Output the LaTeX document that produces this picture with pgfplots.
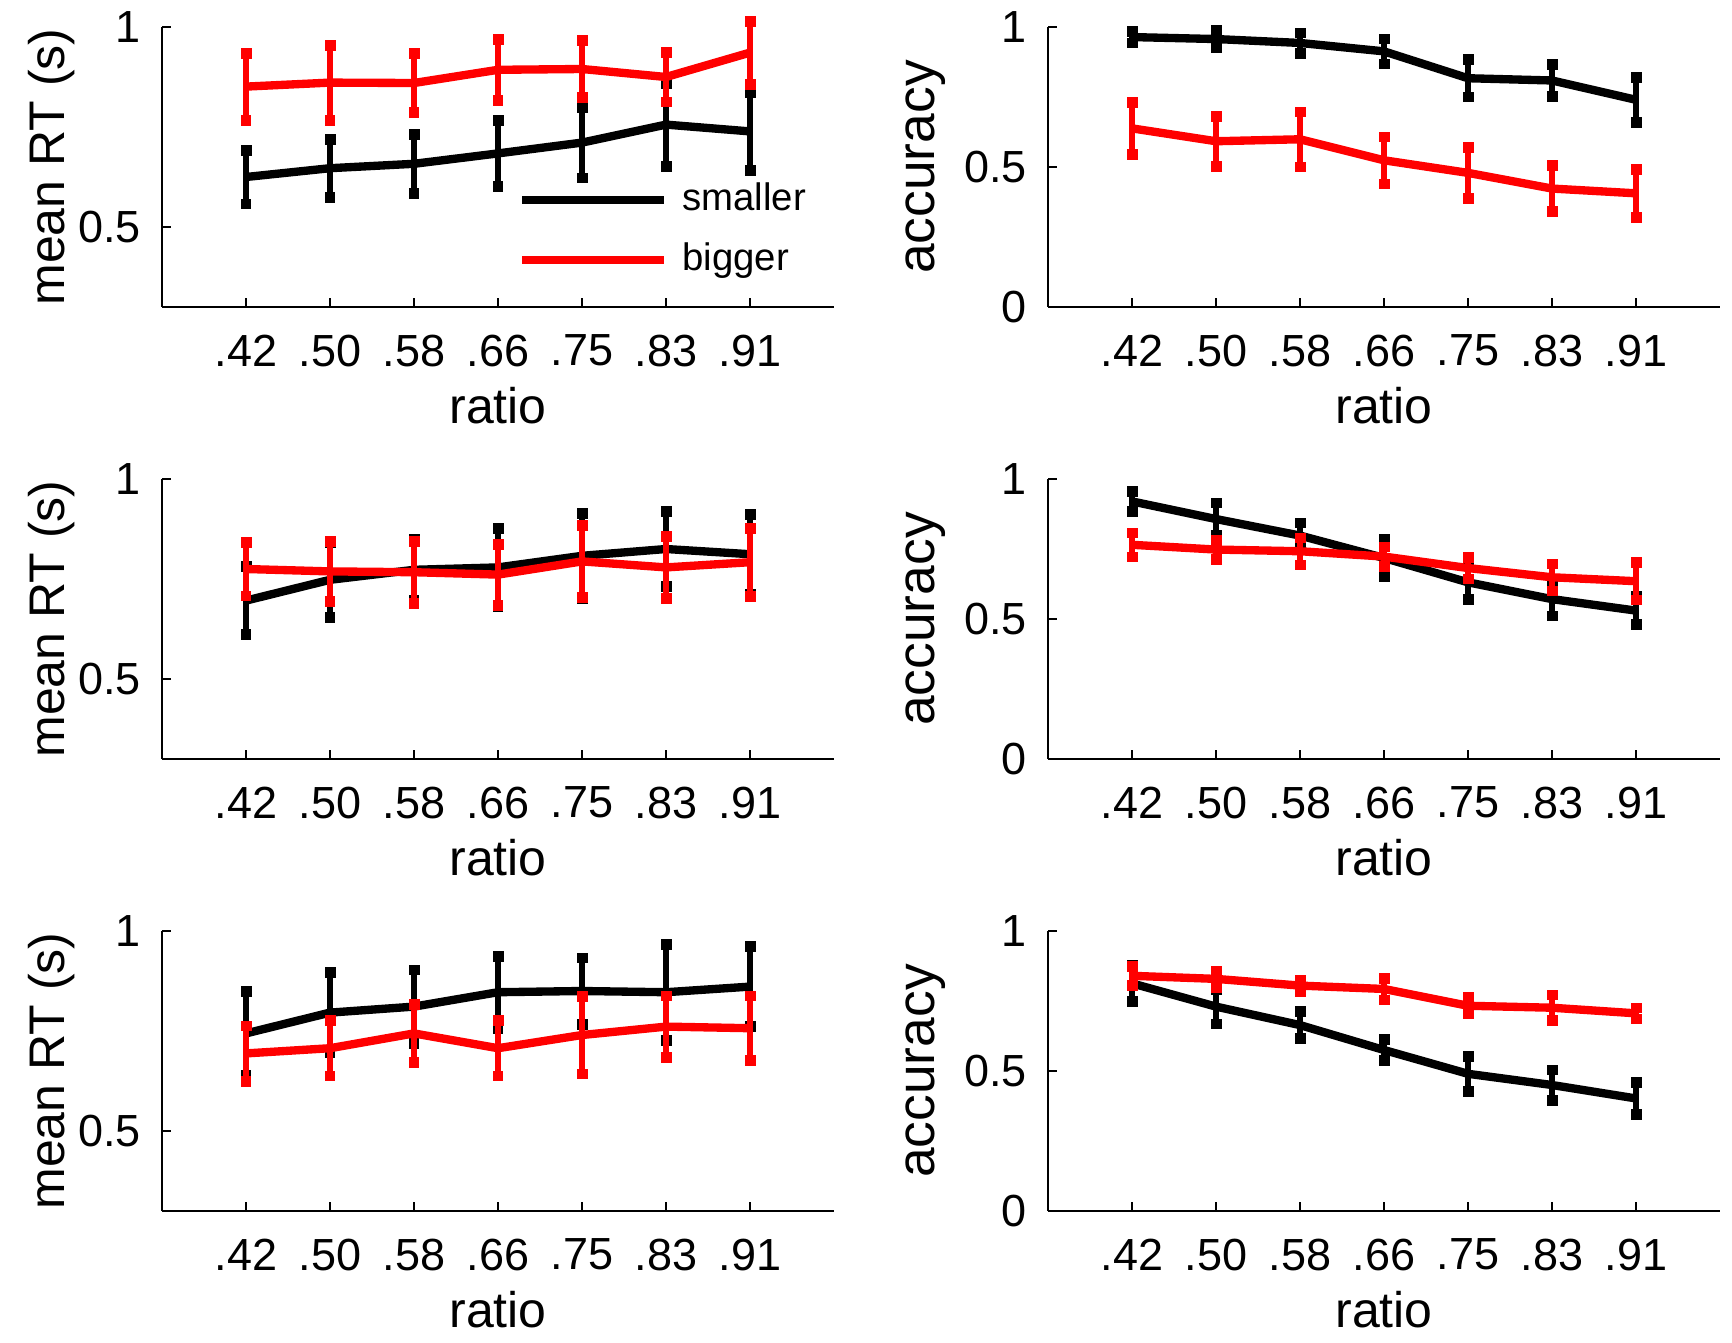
\documentclass[border=0pt]{standalone}
\usepackage{fontspec}
\setmainfont{Liberation Sans}
\usepackage{pgfplots}
\pgfplotsset{compat=1.18}
\pgfplotsset{
  base/.style={
    scale only axis, anchor=south west,
    width=201.6pt, height=84pt,
    xmin=0, xmax=8,
    xtick={1,2,3,4,5,6,7},
    xticklabels={.42,.50,.58,.66,.75,.83,.91},
    axis x line*=bottom, axis y line*=left,
    axis line style={line width=0.8pt,-},
    tick align=inside, major tick length=2.6pt,
    tick style={line width=0.8pt, black},
    xticklabel style={font=\fontsize{13.5}{14}\selectfont, yshift=-4.8pt},
    yticklabel style={font=\fontsize{13.5}{14}\selectfont, xshift=-2.8pt},
    xlabel={ratio},
    xlabel style={font=\fontsize{15}{16}\selectfont, at={(axis description cs:0.5,-0.352)}, anchor=center},
    clip=false,
  },
  rt/.style={base, ymin=0.3, ymax=1, ytick={0.5,1}, yticklabels={0.5,1},
    ylabel={mean RT (s)},
    ylabel style={font=\fontsize{15}{16}\selectfont, at={(axis description cs:-0.1637,0.5)}, anchor=center}},
  acc/.style={base, ymin=0, ymax=1, ytick={0,0.5,1}, yticklabels={0,0.5,1},
    ylabel={accuracy},
    ylabel style={font=\fontsize{16}{17}\selectfont, at={(axis description cs:-0.182,0.5)}, anchor=center}},
  sm/.style={black, line width=2.5pt,
    error bars/y dir=both, error bars/y explicit,
    error bars/error bar style={line width=1.6pt, black},
    error bars/error mark=square*,
    error bars/error mark options={line width=0.2pt, mark size=1.45pt, black, fill=black}},
  bg/.style={red, line width=2.5pt,
    error bars/y dir=both, error bars/y explicit,
    error bars/error bar style={line width=1.6pt, red},
    error bars/error mark=square*,
    error bars/error mark options={line width=0.2pt, mark size=1.45pt, red, fill=red}},
}
\begin{document}
\begin{tikzpicture}
\path[use as bounding box] (0,0) rectangle (519.6pt,402.6pt);
% ---------- row 1 left
\begin{axis}[rt, at={(48.6pt,310.5pt)},
  legend style={at={(axis cs:4.24,0.4925)}, anchor=west, draw=none, fill=none,
    inner sep=0pt, outer sep=0pt, row sep=7pt,
    font=\fontsize{11.5}{12}\selectfont,
    nodes={inner sep=0pt, text height=8.5pt, text depth=2.5pt}},
  legend cell align=left,
  legend image code/.code={\draw[#1,line width=2.5pt] (0pt,0pt) -- (42.6pt,0pt); \path (46.8pt,0pt);}]
\addplot[sm] table[x=x,y=y,y error=e] {
x y e
1 0.625 0.067
2 0.647 0.073
3 0.658 0.074
4 0.684 0.082
5 0.711 0.088
6 0.756 0.104
7 0.739 0.097
};
\addplot[bg] table[x=x,y=y,y error=e] {
x y e
1 0.851 0.084
2 0.861 0.094
3 0.860 0.074
4 0.893 0.077
5 0.895 0.071
6 0.875 0.062
7 0.936 0.079
};
\legend{smaller,bigger}
\end{axis}
% ---------- row 1 right
\begin{axis}[acc, at={(314.4pt,310.5pt)}]
\addplot[sm] table[x=x,y=y,y error=e] {
x y e
1 0.964 0.020
2 0.957 0.030
3 0.943 0.036
4 0.913 0.045
5 0.817 0.067
6 0.809 0.057
7 0.740 0.080
};
\addplot[bg] table[x=x,y=y,y error=e] {
x y e
1 0.638 0.092
2 0.592 0.090
3 0.599 0.098
4 0.524 0.084
5 0.479 0.092
6 0.423 0.082
7 0.406 0.085
};
\end{axis}
% ---------- row 2 left
\begin{axis}[rt, at={(48.6pt,174.9pt)}]
\addplot[sm] table[x=x,y=y,y error=e] {
x y e
1 0.696 0.085
2 0.748 0.094
3 0.773 0.077
4 0.779 0.098
5 0.808 0.106
6 0.825 0.094
7 0.812 0.099
};
\addplot[bg] table[x=x,y=y,y error=e] {
x y e
1 0.775 0.067
2 0.769 0.075
3 0.767 0.077
4 0.761 0.076
5 0.794 0.090
6 0.779 0.077
7 0.792 0.085
};
\end{axis}
% ---------- row 2 right
\begin{axis}[acc, at={(314.4pt,174.9pt)}]
\addplot[sm] table[x=x,y=y,y error=e] {
x y e
1 0.920 0.036
2 0.857 0.058
3 0.798 0.045
4 0.718 0.067
5 0.631 0.060
6 0.571 0.060
7 0.530 0.050
};
\addplot[bg] table[x=x,y=y,y error=e] {
x y e
1 0.765 0.043
2 0.748 0.034
3 0.742 0.048
4 0.723 0.035
5 0.682 0.039
6 0.649 0.048
7 0.635 0.067
};
\end{axis}
% ---------- row 3 left
\begin{axis}[rt, at={(48.6pt,39.3pt)}]
\addplot[sm] table[x=x,y=y,y error=e] {
x y e
1 0.744 0.105
2 0.796 0.100
3 0.811 0.092
4 0.847 0.090
5 0.850 0.083
6 0.847 0.120
7 0.861 0.100
};
\addplot[bg] table[x=x,y=y,y error=e] {
x y e
1 0.694 0.069
2 0.707 0.069
3 0.744 0.073
4 0.707 0.069
5 0.740 0.097
6 0.761 0.077
7 0.757 0.081
};
\end{axis}
% ---------- row 3 right
\begin{axis}[acc, at={(314.4pt,39.3pt)}]
\addplot[sm] table[x=x,y=y,y error=e] {
x y e
1 0.813 0.065
2 0.730 0.062
3 0.664 0.048
4 0.575 0.037
5 0.490 0.063
6 0.450 0.054
7 0.402 0.057
};
\addplot[bg] table[x=x,y=y,y error=e] {
x y e
1 0.840 0.033
2 0.829 0.029
3 0.805 0.020
4 0.793 0.039
5 0.733 0.029
6 0.726 0.046
7 0.706 0.020
};
\end{axis}
\end{tikzpicture}
\end{document}
